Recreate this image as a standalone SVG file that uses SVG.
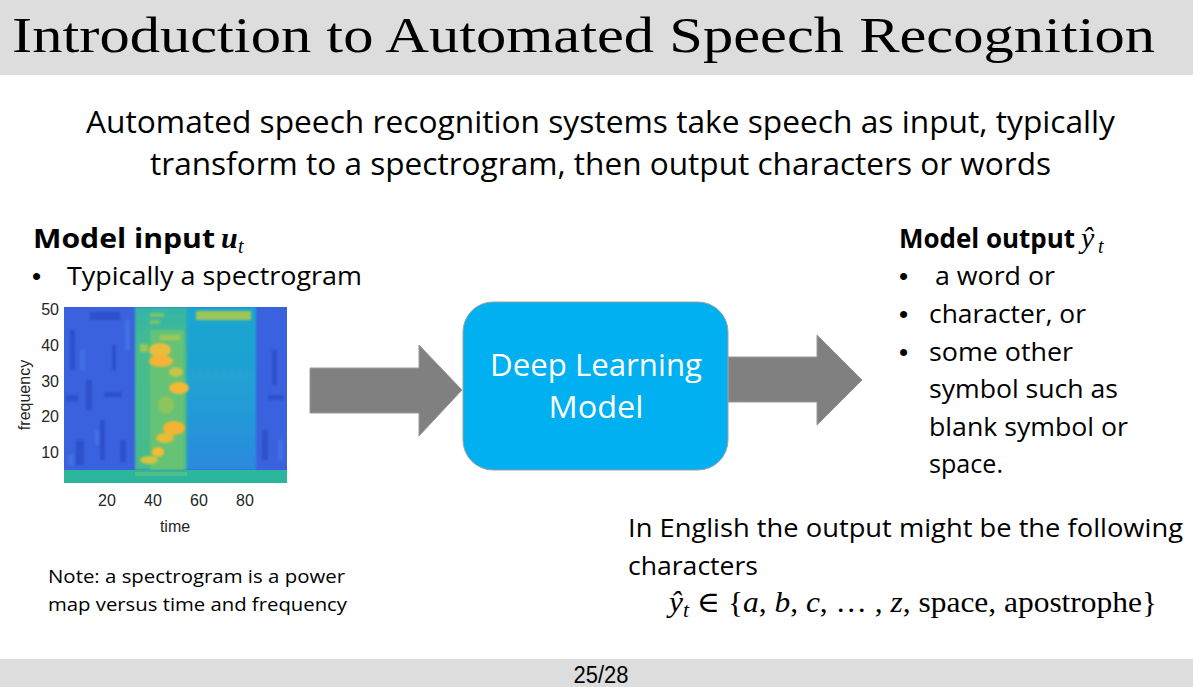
<svg xmlns="http://www.w3.org/2000/svg" width="1193" height="687" viewBox="0 0 1193 687">
<style>
.body{font-family:"Open Sans","Noto Sans",sans-serif;fill:#000}
.bold{font-family:"Open Sans","Noto Sans",sans-serif;font-weight:bold;fill:#000}
.math{font-family:"Liberation Serif","DejaVu Serif",serif;fill:#000}
.ax{font-family:"Liberation Sans",Arial,sans-serif;font-size:16px;fill:#262626}
.arrow{fill:#808080;stroke:#9a9a9a;stroke-width:1}
.bul{font-family:"Liberation Sans",Arial,sans-serif;font-size:26px;fill:#000}
</style>
<defs>
<clipPath id="plotclip"><rect x="64" y="307" width="223" height="176"/></clipPath>
<filter id="blur" x="-20%" y="-20%" width="140%" height="140%"><feGaussianBlur stdDeviation="2.5"/></filter>
<filter id="blur2" x="-20%" y="-20%" width="140%" height="140%"><feGaussianBlur stdDeviation="1.2"/></filter>
<linearGradient id="rightband" x1="0" y1="0" x2="0" y2="1">
<stop offset="0" stop-color="#1fa6cf"/><stop offset="0.5" stop-color="#20a0d4"/><stop offset="1" stop-color="#2b8ade"/>
</linearGradient>
<linearGradient id="speech" x1="0" y1="0" x2="0" y2="1">
<stop offset="0" stop-color="#33b5a7"/><stop offset="0.3" stop-color="#48bc8c"/><stop offset="1" stop-color="#45bb8e"/>
</linearGradient>
</defs>
<rect x="0" y="0" width="1193" height="687" fill="#ffffff"/>
<g id="title">
<rect x="0" y="0" width="1193" height="75" fill="#dddddd"/>
<text x="12" y="52" class="math" font-size="51" textLength="1143" lengthAdjust="spacingAndGlyphs">Introduction to Automated Speech Recognition</text>
</g>
<g id="subtitle">
<text x="86" y="133" class="body" font-size="31" textLength="1029" lengthAdjust="spacingAndGlyphs">Automated speech recognition systems take speech as input, typically</text>
<text x="150" y="175" class="body" font-size="31" textLength="901" lengthAdjust="spacingAndGlyphs">transform to a spectrogram, then output characters or words</text>
</g>
<g id="model-input">
<text x="33" y="248" class="bold" font-size="26" textLength="182" lengthAdjust="spacingAndGlyphs">Model input</text>
<text x="221" y="248" class="math" font-size="30" font-weight="bold" font-style="italic">u</text>
<text x="238" y="253" class="math" font-size="20" font-style="italic">t</text>
<text x="32" y="285" class="bul">•</text>
<text x="67" y="285" class="body" font-size="26" textLength="295" lengthAdjust="spacingAndGlyphs">Typically a spectrogram</text>
</g>
<g id="spectrogram">
<g clip-path="url(#plotclip)">
<rect x="64" y="307" width="223" height="176" fill="#3a62df"/>
<g filter="url(#blur2)" fill="#2b4bc4" opacity="0.75">
<rect x="70" y="330" width="5" height="40"/><rect x="86" y="380" width="6" height="30"/><rect x="100" y="420" width="5" height="40"/>
<rect x="112" y="345" width="4" height="25"/><rect x="120" y="440" width="6" height="22"/><rect x="76" y="440" width="8" height="25"/>
<rect x="200" y="420" width="6" height="35"/><rect x="222" y="435" width="5" height="30"/><rect x="240" y="410" width="5" height="40"/>
<rect x="262" y="430" width="6" height="30"/><rect x="272" y="350" width="5" height="35"/><rect x="90" y="312" width="30" height="8"/>
<rect x="66" y="395" width="12" height="6"/><rect x="104" y="392" width="18" height="5"/><rect x="268" y="395" width="16" height="5"/>
</g>
<g fill="#4a7ae6" opacity="0.6" filter="url(#blur2)">
<rect x="80" y="350" width="5" height="20"/><rect x="95" y="430" width="4" height="15"/><rect x="125" y="320" width="5" height="30"/>
<rect x="278" y="440" width="5" height="20"/><rect x="68" y="455" width="6" height="10"/>
</g>
<rect x="186" y="307" width="70" height="163" fill="url(#rightband)" filter="url(#blur2)"/>
<rect x="135" y="307" width="52" height="163" fill="url(#speech)" filter="url(#blur2)"/>
<g filter="url(#blur2)">
<rect x="150" y="330" width="34" height="140" fill="#6ec46e" opacity="0.8"/>
<rect x="196" y="311" width="55" height="9" fill="#9cc758"/>
<rect x="150" y="313" width="14" height="4" fill="#7cc466"/><rect x="150" y="320" width="10" height="4" fill="#7cc466"/>
<rect x="160" y="335" width="20" height="5" fill="#a0c854"/>
</g>
<rect x="64" y="470" width="223" height="13" fill="#2bb59c"/>
<g fill="#52bd86"><rect x="135" y="472" width="52" height="4"/></g>
<g filter="url(#blur2)">
<ellipse cx="160" cy="350" rx="11" ry="7" fill="#e8bd3c"/>
<ellipse cx="161" cy="361" rx="12" ry="6" fill="#f6b436"/>
<ellipse cx="176" cy="372" rx="7" ry="5" fill="#c6c448"/>
<ellipse cx="179" cy="388" rx="10" ry="6" fill="#f4b834"/>
<ellipse cx="174" cy="428" rx="11" ry="7" fill="#f6b233"/>
<ellipse cx="165" cy="438" rx="9" ry="5" fill="#e8bc38"/>
<ellipse cx="158" cy="452" rx="6" ry="5" fill="#f4bc30"/>
<ellipse cx="149" cy="460" rx="9" ry="4" fill="#d4c43c"/>
<ellipse cx="166" cy="405" rx="8" ry="9" fill="#8ec45c"/>
<rect x="140" y="344" width="8" height="8" fill="#9cc656"/>
</g>
</g>
<g class="ax" text-anchor="end">
<text x="59" y="315">50</text><text x="59" y="351">40</text><text x="59" y="387">30</text><text x="59" y="422">20</text><text x="59" y="458">10</text>
</g>
<g class="ax" text-anchor="middle">
<text x="107" y="506">20</text><text x="153" y="506">40</text><text x="199" y="506">60</text><text x="245" y="506">80</text>
<text x="175" y="532">time</text>
<text transform="translate(30 395) rotate(-90)">frequency</text>
</g>
</g>
<g id="note">
<text x="48" y="583" class="body" font-size="19" textLength="297" lengthAdjust="spacingAndGlyphs">Note: a spectrogram is a power</text>
<text x="48" y="611" class="body" font-size="19" textLength="299" lengthAdjust="spacingAndGlyphs">map versus time and frequency</text>
</g>
<g id="connectors">
<polygon class="arrow" points="310,368 419,368 419,345 462,390 419,436 419,413 310,413"/>
<polygon class="arrow" points="728,357 817,357 817,335 862,380 817,425 817,402 728,402"/>
</g>
<g id="deep-learning-model">
<rect x="463" y="302" width="265" height="168" rx="30" ry="30" fill="#00b0f0" stroke="#a0a0a0" stroke-width="1"/>
<text x="596" y="376" class="body" font-size="31" style="fill:#ffffff" text-anchor="middle" textLength="212" lengthAdjust="spacingAndGlyphs">Deep Learning</text>
<text x="596" y="418" class="body" font-size="31" style="fill:#ffffff" text-anchor="middle" textLength="95" lengthAdjust="spacingAndGlyphs">Model</text>
</g>
<g id="model-output">
<text x="899" y="248" class="bold" font-size="26" textLength="176" lengthAdjust="spacingAndGlyphs">Model output</text>
<text x="1081" y="248" class="math" font-size="30" font-style="italic">ŷ</text>
<text x="1098" y="253" class="math" font-size="20" font-style="italic">t</text>
<text x="899" y="285" class="bul">•</text><text x="899" y="323" class="bul">•</text><text x="899" y="361" class="bul">•</text>
<g class="body" font-size="26">
<text x="935" y="285" textLength="120" lengthAdjust="spacingAndGlyphs">a word or</text>
<text x="929" y="323" textLength="157" lengthAdjust="spacingAndGlyphs">character, or</text>
<text x="929" y="361" textLength="144" lengthAdjust="spacingAndGlyphs">some other</text>
<text x="929" y="398" textLength="189" lengthAdjust="spacingAndGlyphs">symbol such as</text>
<text x="929" y="436" textLength="199" lengthAdjust="spacingAndGlyphs">blank symbol or</text>
<text x="929" y="473" textLength="74" lengthAdjust="spacingAndGlyphs">space.</text>
</g>
</g>
<g id="english-output">
<text x="628" y="537" class="body" font-size="26" textLength="555" lengthAdjust="spacingAndGlyphs">In English the output might be the following</text>
<text x="628" y="575" class="body" font-size="26" textLength="130" lengthAdjust="spacingAndGlyphs">characters</text>
<text x="669" y="612" class="math" font-size="29" textLength="488" lengthAdjust="spacingAndGlyphs"><tspan font-style="italic">ŷ</tspan><tspan font-style="italic" font-size="20" dy="5">t</tspan><tspan dy="-5"> ∈ {</tspan><tspan font-style="italic">a</tspan>, <tspan font-style="italic">b</tspan>, <tspan font-style="italic">c</tspan>, … , <tspan font-style="italic">z</tspan>, space, apostrophe}</text>
</g>
<g id="footer">
<rect x="0" y="659" width="1193" height="28" fill="#dddddd"/>
<text x="601" y="683" font-family="Liberation Sans Narrow,Liberation Sans,sans-serif" font-size="23" text-anchor="middle" fill="#000" textLength="55" lengthAdjust="spacingAndGlyphs">25/28</text>
</g>
</svg>
